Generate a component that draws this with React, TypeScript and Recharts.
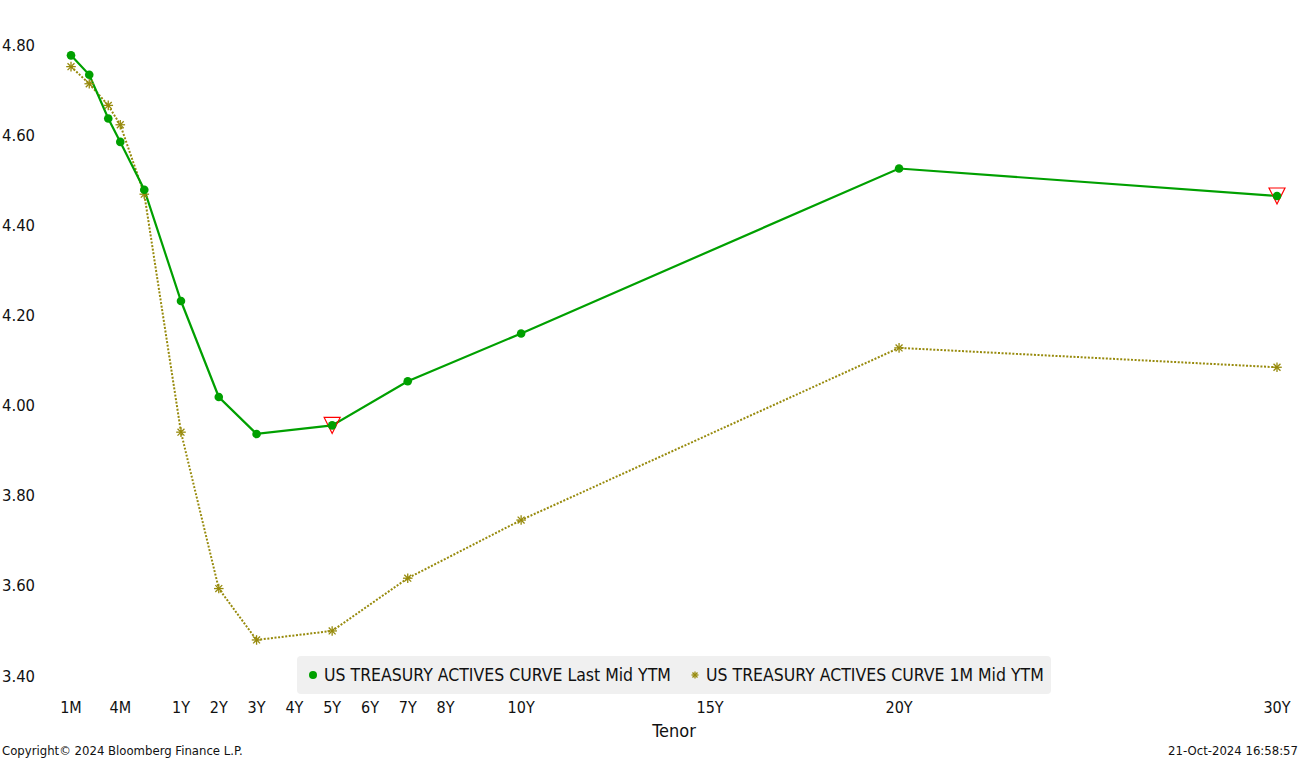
import React from 'react';
import { LineChart, Line, XAxis, YAxis } from 'recharts';

const FONT = '"DejaVu Sans Condensed", "DejaVu Sans", sans-serif';

const tenors = ['1M', '2M', '3M', '4M', '6M', '1Y', '2Y', '3Y', '5Y', '7Y', '10Y', '20Y', '30Y'];
// position of each tenor on Bloomberg's tenor axis (years from 1Y on, compressed below 1Y)
const tenorAxisPos = [-1.91, -1.427, -0.924, -0.606, 0.029, 1, 2, 3, 5, 7, 10, 20, 30];
const lastMidYtm = [4.777, 4.734, 4.637, 4.585, 4.479, 4.232, 4.019, 3.937, 3.956, 4.054, 4.16, 4.526, 4.465];
const oneMonthMidYtm = [4.752, 4.714, 4.666, 4.623, 4.469, 3.941, 3.594, 3.48, 3.5, 3.617, 3.746, 4.128, 4.085];
const flaggedTenors = ['5Y', '30Y'];

const xTickLabels = ['1M', '4M', '1Y', '2Y', '3Y', '4Y', '5Y', '6Y', '7Y', '8Y', '10Y', '15Y', '20Y', '30Y'];
const xTickPos = [-1.91, -0.606, 1, 2, 3, 4, 5, 6, 7, 8, 10, 15, 20, 30];
const yTicks = [3.4, 3.6, 3.8, 4.0, 4.2, 4.4, 4.6, 4.8];

const seriesNames = ['US TREASURY ACTIVES CURVE Last Mid YTM', 'US TREASURY ACTIVES CURVE 1M Mid YTM'];
const GREEN = '#00a000';
const OLIVE = '#978a0c';

const data = tenors.map((t, i) => ({
  tenor: t,
  pos: tenorAxisPos[i],
  last: lastMidYtm[i],
  prev: oneMonthMidYtm[i],
  flag: flaggedTenors.includes(t),
}));

const GreenDot = (props: any) => {
  const { cx, cy, payload } = props;
  if (cx == null || cy == null) return <g />;
  return (
    <g>
      {payload.flag && (
        <polygon
          points={`${cx - 8},${cy - 8} ${cx + 8},${cy - 8} ${cx},${cy + 8}`}
          fill="none"
          stroke="#ff0000"
          strokeWidth={1.2}
        />
      )}
      <circle cx={cx} cy={cy} r={4.3} fill={GREEN} />
    </g>
  );
};

const Asterisk = ({ cx, cy, color, s = 4.8 }: any) => {
  const d = s * 0.72;
  return (
    <g stroke={color} strokeWidth={1.3}>
      <line x1={cx - s} y1={cy} x2={cx + s} y2={cy} />
      <line x1={cx} y1={cy - s} x2={cx} y2={cy + s} />
      <line x1={cx - d} y1={cy - d} x2={cx + d} y2={cy + d} />
      <line x1={cx - d} y1={cy + d} x2={cx + d} y2={cy - d} />
    </g>
  );
};

const OliveDot = (props: any) => {
  const { cx, cy } = props;
  if (cx == null || cy == null) return <g />;
  return <Asterisk cx={cx} cy={cy} color={OLIVE} />;
};

const XTick = (props: any) => {
  const { x, payload } = props;
  const idx = xTickPos.indexOf(payload.value);
  return (
    <text x={x} y={707} textAnchor="middle" dominantBaseline="central" fontSize={16} fill="#111" fontFamily={FONT}>
      {idx >= 0 ? xTickLabels[idx] : ''}
    </text>
  );
};

const YTick = (props: any) => {
  const { y, payload } = props;
  return (
    <text x={2} y={y} textAnchor="start" dominantBaseline="central" fontSize={16.5} fill="#111" fontFamily={FONT}>
      {Number(payload.value).toFixed(2)}
    </text>
  );
};

export default function App() {
  return (
    <div style={{ position: 'absolute', left: 0, top: 0, width: 1301, height: 761, background: '#fff', fontFamily: FONT, color: '#111' }}>
      <LineChart width={1301} height={761} data={data} margin={{ top: 45, right: 24, bottom: 45, left: 0 }}>
        <XAxis
          dataKey="pos"
          type="number"
          domain={[-1.91, 30]}
          ticks={xTickPos}
          interval={0}
          axisLine={false}
          tickLine={false}
          height={40}
          tick={<XTick />}
        />
        <YAxis
          type="number"
          domain={[3.4, 4.8]}
          ticks={yTicks}
          interval={0}
          axisLine={false}
          tickLine={false}
          width={71}
          tick={<YTick />}
        />
        <Line
          type="linear"
          dataKey="prev"
          stroke={OLIVE}
          strokeWidth={2}
          strokeDasharray="2 1.6"
          dot={<OliveDot />}
          activeDot={false}
          isAnimationActive={false}
        />
        <Line
          type="linear"
          dataKey="last"
          stroke={GREEN}
          strokeWidth={2.2}
          dot={<GreenDot />}
          activeDot={false}
          isAnimationActive={false}
        />
      </LineChart>

      <div style={{ position: 'absolute', left: 297, top: 656, width: 754, height: 38, background: '#f0f0f0', borderRadius: 4 }}>
        <svg style={{ position: 'absolute', left: 0, top: 0 }} width={754} height={38}>
          <circle cx={16} cy={19} r={4} fill={GREEN} />
          <Asterisk cx={398} cy={19} color={OLIVE} s={3.5} />
        </svg>
        <div style={{ position: 'absolute', left: 27, top: 0, height: 38, lineHeight: '38px', fontSize: 17.5, whiteSpace: 'nowrap' }}>
          {seriesNames[0]}
        </div>
        <div style={{ position: 'absolute', left: 409, top: 0, height: 38, lineHeight: '38px', fontSize: 17.5, whiteSpace: 'nowrap' }}>
          {seriesNames[1]}
        </div>
      </div>

      <div style={{ position: 'absolute', left: 0, width: 1348, top: 719, textAlign: 'center', fontSize: 18, lineHeight: '24px' }}>
        Tenor
      </div>
      <div style={{ position: 'absolute', left: 2, top: 743, fontSize: 13, lineHeight: '16px' }}>
        Copyright© 2024 Bloomberg Finance L.P.
      </div>
      <div style={{ position: 'absolute', right: 3, top: 743, fontSize: 13, lineHeight: '16px' }}>
        21-Oct-2024 16:58:57
      </div>
    </div>
  );
}
